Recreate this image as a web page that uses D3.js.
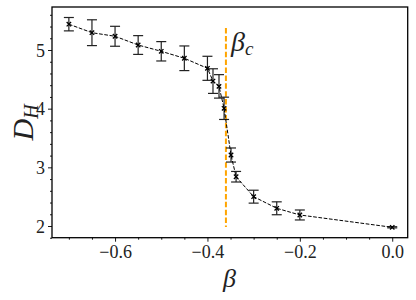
<!DOCTYPE html>
<html><head><meta charset="utf-8">
<script src="https://cdn.jsdelivr.net/npm/d3@7"></script>
<style>
html,body{margin:0;padding:0;background:#fff;}
svg{display:block;}
</style></head>
<body><div id="chart"></div>
<script>
const beta = [-0.70, -0.65, -0.60, -0.55, -0.50, -0.45, -0.40, -0.388, -0.375, -0.364, -0.349, -0.338, -0.30, -0.25, -0.20, 0.0];
const DH   = [5.44, 5.295, 5.234, 5.085, 4.978, 4.859, 4.688, 4.47, 4.38, 4.006, 3.21, 2.84, 2.50, 2.302, 2.188, 1.978];
const DHerr= [0.114, 0.22, 0.17, 0.16, 0.165, 0.21, 0.205, 0.21, 0.20, 0.19, 0.12, 0.09, 0.11, 0.11, 0.085, 0.01];
const betaC = -0.36;
const xTicks = [-0.6, -0.4, -0.2, 0.0];
const yTicks = [2, 3, 4, 5];

const FONT = "'Liberation Serif'";
const W = 416, H = 300;
const m = {l:52, t:7, r:407.7, b:237.7};
const svg = d3.select("#chart").append("svg").attr("width", W).attr("height", H);
const x = d3.scaleLinear().domain([-0.7365, 0.0335]).range([m.l, m.r]);
const y = d3.scaleLinear().domain([1.8006, 5.733]).range([m.b, m.t]);

const xMinor = d3.range(-0.70, 0.031, 0.05).filter(v => !xTicks.some(t => Math.abs(t - v) < 1e-6));
const yMinor = d3.range(1.8, 5.75, 0.2).filter(v => !yTicks.some(t => Math.abs(t - v) < 1e-6));

const fmtX = d => (d < 0 ? "\u2212" : "") + Math.abs(d).toFixed(1);

const gx = svg.append("g").attr("transform", `translate(0,${m.b})`)
  .call(d3.axisBottom(x).tickValues(xTicks).tickFormat(fmtX).tickSize(4).tickPadding(4));
const gxm = svg.append("g").attr("transform", `translate(0,${m.b})`)
  .call(d3.axisBottom(x).tickValues(xMinor).tickFormat("").tickSize(2));
const gy = svg.append("g").attr("transform", `translate(${m.l},0)`)
  .call(d3.axisLeft(y).tickValues(yTicks).tickFormat(d3.format("d")).tickSize(4).tickPadding(3));
const gym = svg.append("g").attr("transform", `translate(${m.l},0)`)
  .call(d3.axisLeft(y).tickValues(yMinor).tickFormat("").tickSize(2));
[gx, gxm, gy, gym].forEach(g => { g.attr("font-family", null); g.select(".domain").remove(); g.selectAll("line").attr("stroke", "#000").attr("stroke-width", 0.9); });
gx.selectAll("text").style("font-family", FONT).style("font-size", "18px").attr("fill", "#222");
gy.selectAll("text").style("font-family", FONT).style("font-size", "18px").attr("fill", "#222").attr("dy", "0.35em");

svg.append("rect").attr("x", m.l).attr("y", m.t).attr("width", m.r - m.l).attr("height", m.b - m.t)
  .attr("fill", "none").attr("stroke", "#000").attr("stroke-width", 1.3);

svg.append("line").attr("x1", x(betaC)).attr("x2", x(betaC)).attr("y1", 28).attr("y2", 227)
  .attr("stroke", "#ffa500").attr("stroke-width", 2).attr("stroke-dasharray", "5.5,2.4");
svg.append("text").attr("x", x(betaC) + 5).attr("y", 51).style("font-family", FONT).style("font-size", "28px").style("font-style", "italic")
  .attr("fill", "#222").text("β").append("tspan").style("font-size", "19px").attr("dy", 4).text("c");

const data = beta.map((b, i) => ({b, d: DH[i], e: DHerr[i]}));

const eb = svg.append("g").attr("stroke", "#222").attr("stroke-width", 1.2);
data.forEach(p => {
  const cx = x(p.b), y1 = y(p.d + p.e), y2 = y(p.d - p.e);
  eb.append("line").attr("x1", cx).attr("x2", cx).attr("y1", y1).attr("y2", y2);
  eb.append("line").attr("x1", cx - 5).attr("x2", cx + 5).attr("y1", y1).attr("y2", y1);
  eb.append("line").attr("x1", cx - 5).attr("x2", cx + 5).attr("y1", y2).attr("y2", y2);
});

svg.append("path").datum(data)
  .attr("d", d3.line().x(p => x(p.b)).y(p => y(p.d)))
  .attr("fill", "none").attr("stroke", "#000").attr("stroke-width", 1).attr("stroke-dasharray", "3.7,1.6");

const mk = svg.append("g").attr("stroke", "#000").attr("stroke-width", 1.3);
data.forEach(p => {
  const cx = x(p.b), cy = y(p.d), s = 2.2;
  mk.append("line").attr("x1", cx - s).attr("x2", cx + s).attr("y1", cy - s).attr("y2", cy + s);
  mk.append("line").attr("x1", cx - s).attr("x2", cx + s).attr("y1", cy + s).attr("y2", cy - s);
});

svg.append("text").attr("x", x(-0.4) + 22).attr("y", 287).attr("text-anchor", "middle")
  .style("font-family", FONT).style("font-size", "26px").style("font-style", "italic").attr("fill", "#222").text("β");
svg.append("text").attr("transform", `translate(33,${(m.t + m.b) / 2}) rotate(-90)`).attr("text-anchor", "middle")
  .style("font-family", FONT).style("font-size", "30px").style("font-style", "italic").attr("fill", "#222")
  .text("D").append("tspan").style("font-size", "20px").attr("dy", 5).text("H");
</script></body></html>
